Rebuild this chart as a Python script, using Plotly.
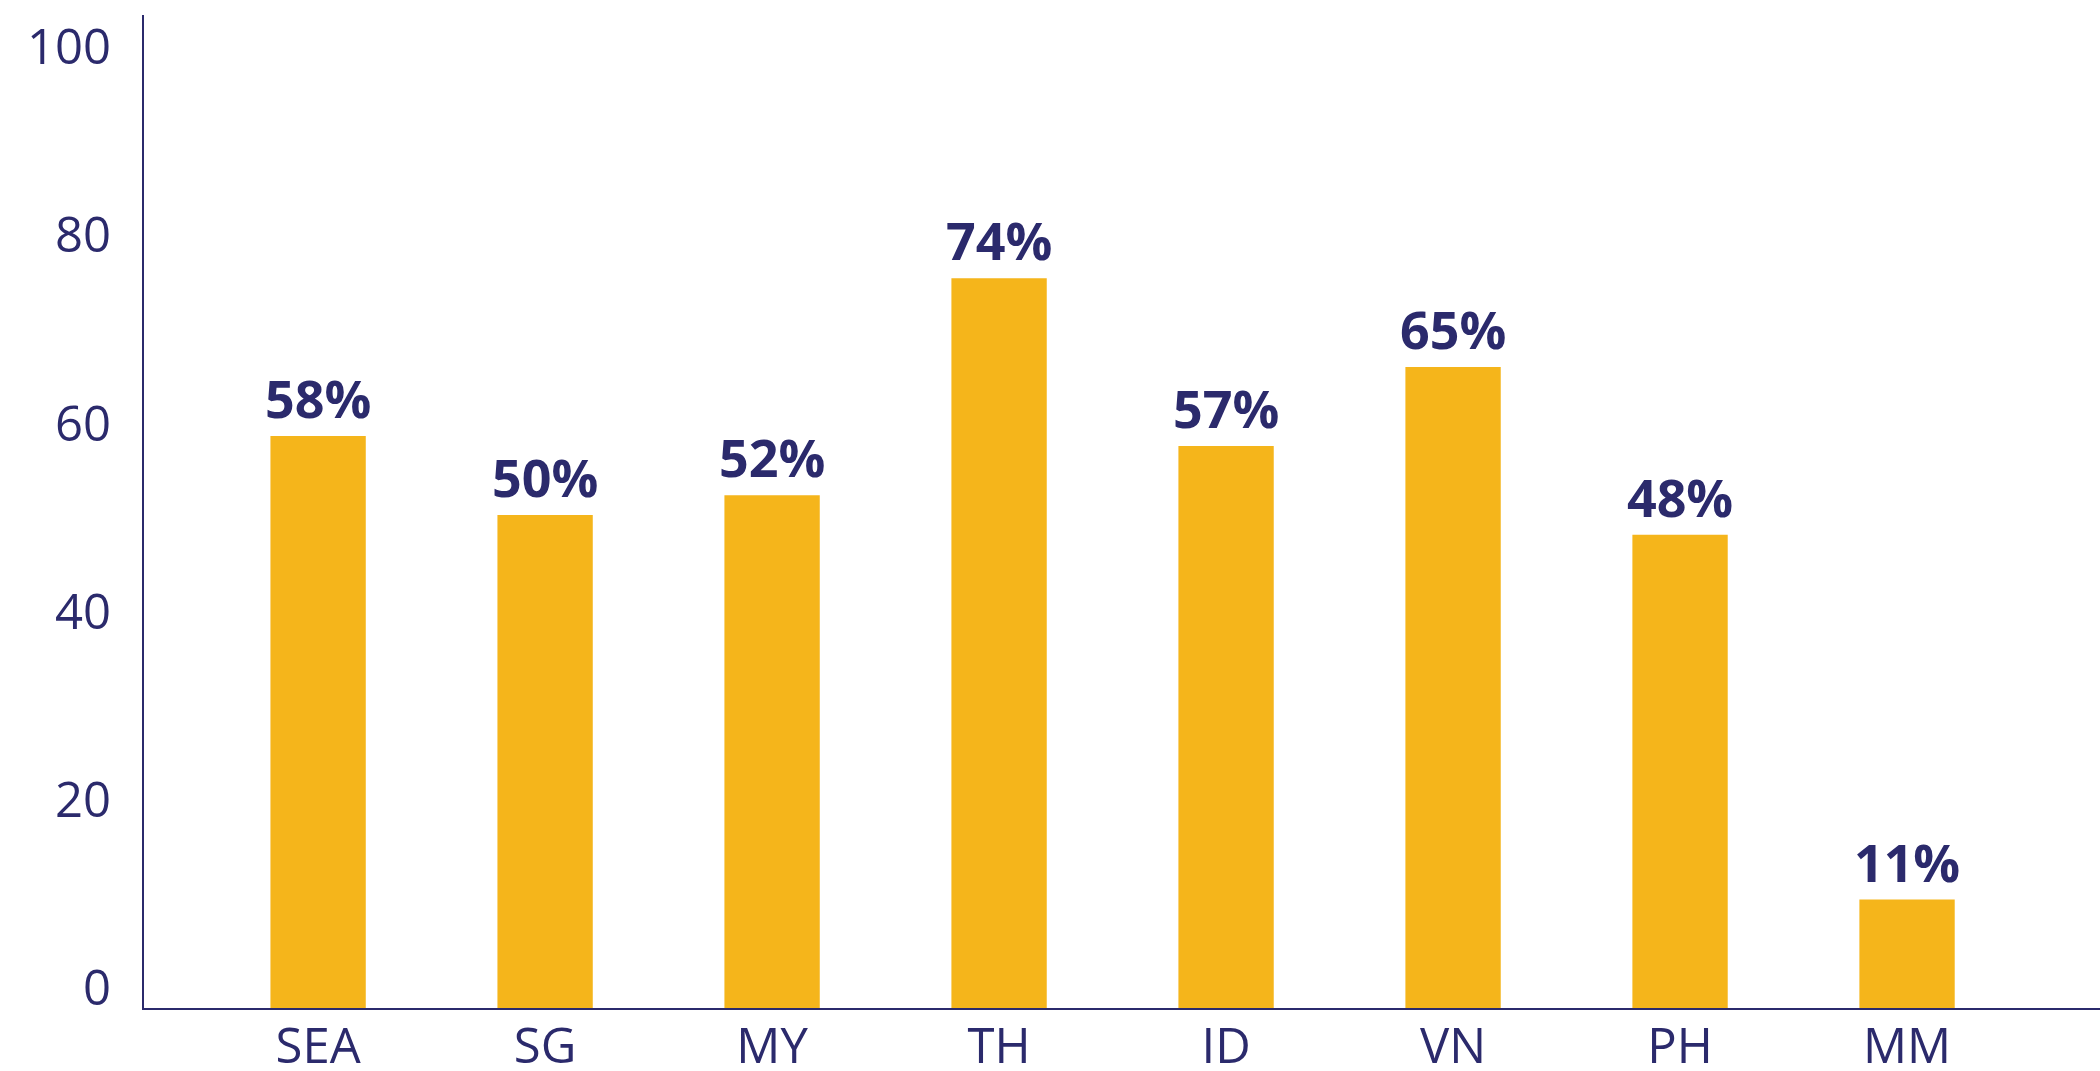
import plotly.graph_objects as go

categories = ["SEA", "SG", "MY", "TH", "ID", "VN", "PH", "MM"]
values = [58, 50, 52, 74, 57, 65, 48, 11]
y_ticks = [0, 20, 40, 60, 80, 100]

NAVY = "#2B2A6C"
GOLD = "#F5B51B"

fig = go.Figure()
fig.add_trace(go.Bar(
    x=categories,
    y=values,
    width=0.42,
    marker=dict(color=GOLD, line=dict(width=0)),
    text=[f"{v}%" for v in values],
    textposition="outside",
    cliponaxis=False,
    constraintext="none",
    textfont=dict(family="Open Sans", size=52, color=NAVY, weight="bold"),
    hoverinfo="x+y",
    yaxis="y",
))
# helper (invisible) trace so the tick-label axis is rendered
fig.add_trace(go.Scatter(
    x=categories, y=values, yaxis="y2", mode="markers",
    marker=dict(opacity=0), hoverinfo="skip", showlegend=False,
))

fig.update_layout(
    width=2100,
    height=1071,
    margin=dict(l=144, r=0, t=15, b=63),
    plot_bgcolor="white",
    paper_bgcolor="white",
    showlegend=False,
    font=dict(family="Open Sans", color=NAVY, size=49),
    xaxis=dict(
        range=[-0.767, 7.85], automargin=False,
        showline=True, linecolor=NAVY, linewidth=2,
        showgrid=False, zeroline=False, ticks="",
        tickfont=dict(family="Open Sans", size=49, color=NAVY),
        ticklabelstandoff=-6,
    ),
    yaxis=dict(
        range=[0, 100.7], automargin=False,
        showline=True, linecolor=NAVY, linewidth=2,
        showgrid=False, zeroline=False, showticklabels=False, ticks="",
    ),
    yaxis2=dict(
        overlaying="y", side="left", automargin=False,
        range=[-2.125, 103.4],
        tickmode="array", tickvals=y_ticks, ticktext=[str(t) for t in y_ticks],
        showgrid=False, zeroline=False, showline=False, ticks="",
        tickfont=dict(family="Open Sans", size=49, color=NAVY),
        ticklabelstandoff=32,
    ),
)

fig.write_html("out.html", config={"displayModeBar": False},
               post_script="document.body.style.margin='0';")
